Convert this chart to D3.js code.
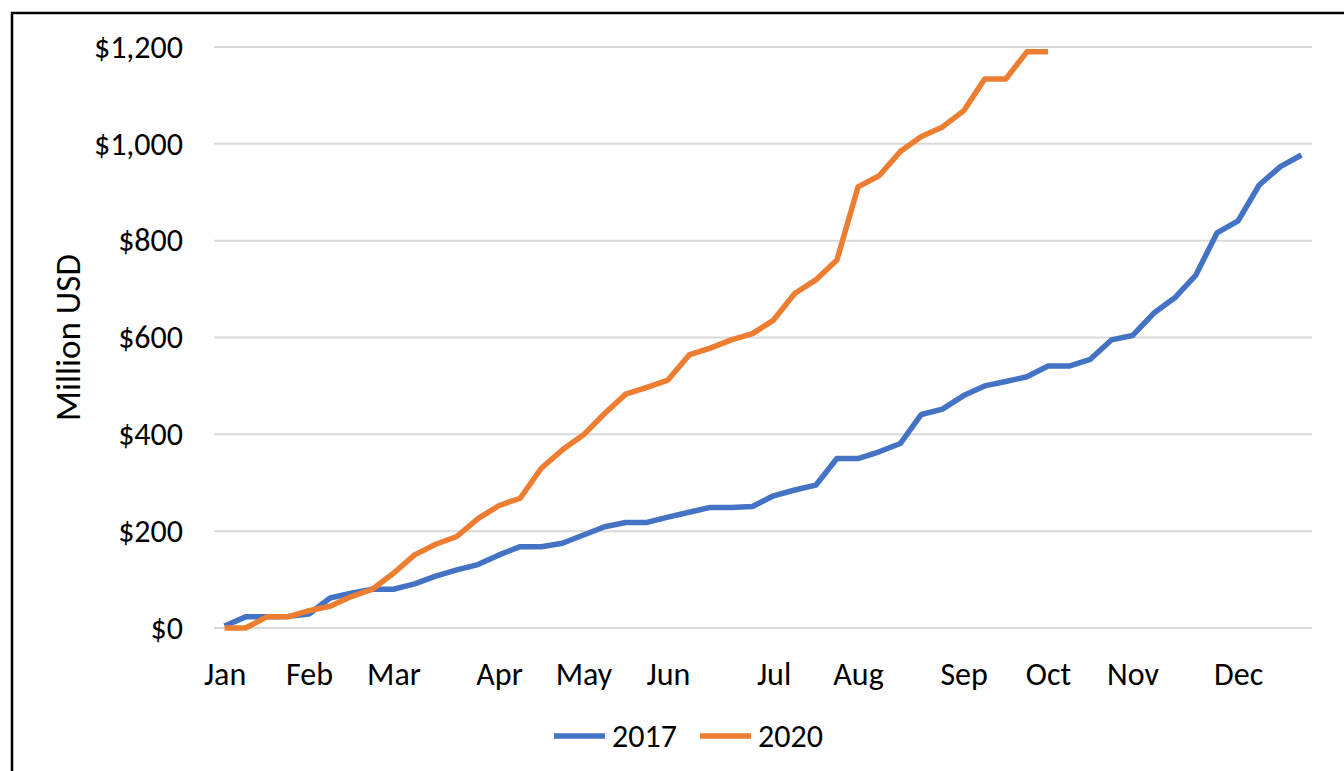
<!DOCTYPE html>
<html>
<head>
<meta charset="utf-8">
<style>
  body { margin: 0; background: #fff; }
  svg text { font-family: Carlito, Calibri, "Open Sans", sans-serif; fill: #000; }
</style>
</head>
<body>
<svg id="chart" width="1344" height="771"></svg>
<script src="https://d3js.org/d3.v7.min.js"></script>
<script>

// weekly cumulative totals, million USD
var weeks = d3.range(52);
var sales2017 = [4, 23, 23, 24, 29, 62, 72, 80, 80, 91, 107, 120, 131, 151, 168, 168, 175, 192, 209, 218,
  218, 229, 239, 249, 249, 251, 273, 285, 295, 350, 350, 364, 381, 441, 452, 480, 500, 509, 519, 541,
  541, 555, 595, 604, 650, 682, 729, 816, 841, 915, 953, 977];
var sales2020 = [0, 0, 23, 23, 36, 45, 65, 80, 113, 151, 173, 189, 226, 253, 268, 330, 368, 399, 443, 483,
  497, 512, 564, 578, 595, 608, 636, 691, 719, 760, 911, 934, 984, 1015, 1035, 1068, 1134, 1134, 1190, 1190];

// month labels sit on the first week of each month
var monthNames = ["Jan", "Feb", "Mar", "Apr", "May", "Jun", "Jul", "Aug", "Sep", "Oct", "Nov", "Dec"];
var monthWeeks = [0, 4, 8, 13, 17, 21, 26, 30, 35, 39, 43, 48];
var yTicks = [0, 200, 400, 600, 800, 1000, 1200];

var seriesNames = ["2017", "2020"];
var seriesColors = ["#4472C4", "#ED7D31"];

var svg = d3.select("#chart"),
    margin = {top: 47, right: 32, bottom: 143, left: 214},
    width = +svg.attr("width") - margin.left - margin.right,
    height = +svg.attr("height") - margin.top - margin.bottom;

// outer frame
svg.append("rect")
    .attr("x", 12)
    .attr("y", 13)
    .attr("width", 1400)
    .attr("height", 900)
    .attr("fill", "none")
    .attr("stroke", "#000")
    .attr("stroke-width", 2.5);

var g = svg.append("g").attr("transform", "translate(" + margin.left + "," + margin.top + ")");

var x = d3.scalePoint()
    .domain(weeks)
    .range([0, width])
    .padding(0.5);

var y = d3.scaleLinear()
    .domain([0, 1200])
    .range([height, 0]);

// gridlines
g.append("g")
  .selectAll("line")
  .data(yTicks)
  .enter().append("line")
    .attr("x1", 0)
    .attr("x2", width)
    .attr("y1", function(d) { return y(d); })
    .attr("y2", function(d) { return y(d); })
    .attr("stroke", "#D9D9D9")
    .attr("stroke-width", 2);

var yAxis = g.append("g")
    .call(d3.axisLeft(y).tickValues(yTicks).tickSize(0).tickPadding(31).tickFormat(d3.format("$,")));
yAxis.select(".domain").remove();
yAxis.selectAll("text").style("font-size", "32px");

var xAxis = g.append("g")
    .attr("transform", "translate(0," + height + ")")
    .call(d3.axisBottom(x).tickValues(monthWeeks).tickSize(0).tickPadding(34)
      .tickFormat(function(d) { return monthNames[monthWeeks.indexOf(d)]; }));
xAxis.select(".domain").remove();
xAxis.selectAll("text").style("font-size", "32px");

svg.append("text")
    .attr("transform", "translate(80," + (margin.top + height / 2) + ") rotate(-90)")
    .attr("text-anchor", "middle")
    .style("font-size", "35px")
    .text("Million USD");

var line = d3.line()
    .x(function(d, i) { return x(i); })
    .y(function(d) { return y(d); });

[sales2017, sales2020].forEach(function(data, i) {
  g.append("path")
      .datum(data)
      .attr("fill", "none")
      .attr("stroke", seriesColors[i])
      .attr("stroke-width", 5.5)
      .attr("stroke-linejoin", "round")
      .attr("d", line);
});

// legend
var legend = svg.append("g").attr("transform", "translate(554,736)");
var offsets = [0, 146];
seriesNames.forEach(function(name, i) {
  var item = legend.append("g").attr("transform", "translate(" + offsets[i] + ",0)");
  item.append("line")
      .attr("x1", 0)
      .attr("x2", 51)
      .attr("stroke", seriesColors[i])
      .attr("stroke-width", 5.5);
  item.append("text")
      .attr("x", 58)
      .attr("dy", "0.35em")
      .style("font-size", "32px")
      .text(name);
});

</script>
</body>
</html>
